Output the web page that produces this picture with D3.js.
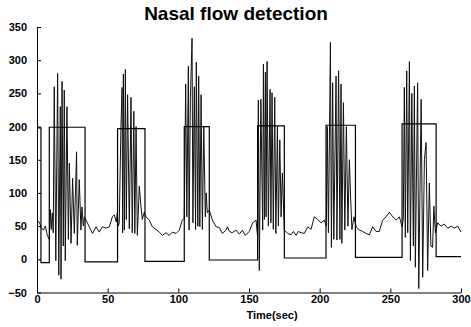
<!DOCTYPE html>
<html>
<head>
<meta charset="utf-8">
<script src="https://cdn.jsdelivr.net/npm/d3@7/dist/d3.min.js"></script>
<style>
  html, body { margin: 0; padding: 0; background: #fff; }
  svg { display: block; }
  .axis text { font-family: "Liberation Sans", Arial, sans-serif; font-weight: bold; font-size: 11px; fill: #000; }
  .axis path, .axis line { stroke: #000; stroke-width: 1; }
</style>
</head>
<body>
<div id="chart"></div>
<script>
// Nasal flow signal (time in sec, flow value)
const flowTime = [
  0, 1.6, 3.0, 4.5, 5.9, 7.3, 8.7, 9.4, 10.1, 10.8, 11.5, 12.2, 13.3, 14.6, 15.4, 16.5, 17.0, 17.7,
  18.6, 19.3, 20.0, 21.2, 22.2, 22.9, 24.1, 25.2, 26.4, 28.0, 28.5, 29.9, 31.1, 31.8, 32.8, 33.5, 34.7,
  37.0, 39.3, 41.8, 44.1, 46.2, 48.8, 51.2, 53.3, 54.7, 56.1,
  56.8, 57.5, 58.2, 59.4, 60.2, 60.6, 61.1, 61.8, 62.5, 63.2, 64.1, 65.3, 66.5, 67.4, 68.5, 69.2, 70.1,
  71.0, 72.4, 73.6, 74.5, 75.9,
  77.1, 79.5, 81.6, 84.2, 86.6, 88.7, 91.3, 93.6, 95.8, 98.4, 100.7, 102.8,
  104.2, 105.2, 106.0, 107.1, 107.6, 108.5, 109.7, 110.3, 111.3, 112.2, 112.7, 113.8, 114.4, 115.2,
  116.1, 117.0, 118.0, 119.1, 119.7, 120.5,
  121.9, 124.1, 126.7, 129.0, 131.1, 133.8, 134.7, 136.1, 138.2, 140.8, 143.2, 145.3, 147.4, 150.2,
  152.6, 155.0,
  156.1, 156.6, 157.3, 158.4, 159.7, 160.2, 160.9, 161.6, 162.1, 162.8, 163.7, 164.9, 165.5, 166.3,
  167.2, 168.2, 169.0, 170.1, 170.8, 171.8, 172.7, 173.6, 175.0,
  177.3, 179.8, 181.4, 183.3, 184.9, 186.8, 189.2, 191.5, 193.9, 196.2, 198.6, 201.0, 203.3,
  204.7, 205.4, 206.2, 207.6, 208.3, 209.2, 210.0, 211.6, 212.2, 213.4, 214.3, 215.1, 215.7, 216.8,
  217.8, 218.9, 220.0, 221.0, 221.9, 222.8, 224.3, 225.8,
  228.1, 230.4, 232.8, 235.2, 237.5, 239.9, 242.2, 244.6, 247.0, 249.3, 251.7, 254.1, 256.4, 258.3,
  259.2, 259.9, 260.6, 261.6, 262.3, 263.5, 264.2, 265.2, 266.3, 267.0, 267.7, 269.3, 270.1, 271.8,
  272.9, 274.1, 275.3, 276.4, 277.6, 278.7, 279.9, 280.8, 281.9, 283.5,
  285.9, 288.2, 290.6, 293.0, 295.3, 297.7, 300
];
const flowValue = [
  58, 56, 48, 44, 50, 36, 30, 75, 45, 70, 40, 260, -2, 280, -24, 230, -30, 268,
  20, 255, -2, 230, 30, 145, 24, 122, 39, 162, 21, 120, 44, 79, 50, 64, 59,
  49, 39, 49, 41, 49, 47, 49, 64, 67, 56,
  70, 50, 55, 200, 259, 40, 279, 44, 286, 60, 248, 46, 244, 40, 223, 39, 200,
  36, 110, 79, 60, 71,
  64, 59, 49, 45, 41, 36, 40, 36, 41, 39, 44, 59,
  62, 264, 64, 291, 44, 240, 333, 55, 260, 45, 297, 50, 276, 49,
  248, 45, 200, 64, 100, 70,
  74, 59, 49, 48, 39, 44, 49, 42, 40, 44, 38, 44, 36, 42,
  55, 59,
  33, 240, -17, 241, 44, 294, 60, 282, 64, 298, 50, 256, 55, 251,
  45, 244, 39, 200, 50, 180, 64, 130, 44,
  39, 37, 42, 36, 42, 40, 39, 49, 45, 64, 60, 55, 59,
  50, 200, 40, 327, 18, 266, 30, 276, 29, 284, 30, 264, 24, 236,
  44, 200, 50, 150, 94, 45, 64, 49,
  44, 42, 39, 37, 49, 42, 42, 59, 64, 71, 64, 59, 64, 49,
  60, 259, 33, 284, 40, 298, -2, 250, 20, 261, -12, 266, -44, 241,
  -27, 150, 176, -17, 115, 20, 18, 80, 40, 55,
  50, 53, 47, 50, 47, 50, 41
];

// Detection signal: step starts (sec) and levels
const stepStart = [0, 2.8, 8.7, 34, 57, 76.4, 104.2, 121.9, 156.1, 175, 204.5, 225.3, 258.3, 282.4, 300];
const stepLevel = [198, -5, 199, -4, 197, -3, 200, -1, 201, 2, 202, 3, 204, 4, 4];

const xTicks = [0, 50, 100, 150, 200, 250, 300];
const yTicks = [-50, 0, 50, 100, 150, 200, 250, 300, 350];

const width = 471, height = 327;

const svg = d3.select("#chart").append("svg")
  .attr("width", width)
  .attr("height", height)
  .style("background", "#fff");

const x = d3.scaleLinear().domain([0, 300]).range([37, 461]);
const y = d3.scaleLinear().domain([-50, 350]).range([292.5, 27]);

// Title
svg.append("text")
  .attr("x", 236)
  .attr("y", 20)
  .attr("text-anchor", "middle")
  .style("font-family", "'Liberation Sans', Arial, sans-serif")
  .style("font-weight", "bold")
  .style("font-size", "19px")
  .text("Nasal flow detection")

// Axes (ticks point inward)
svg.append("g")
  .attr("class", "axis")
  .attr("transform", `translate(0,${y(-50)})`)
  .call(d3.axisBottom(x).tickValues(xTicks).tickSizeInner(-4).tickSizeOuter(0).tickPadding(3))

svg.append("g")
  .attr("class", "axis")
  .attr("transform", `translate(${x(0)},0)`)
  .call(d3.axisLeft(y).tickValues(yTicks).tickSizeInner(-4).tickSizeOuter(0).tickPadding(10))

svg.append("text")
  .attr("x", 272)
  .attr("y", 319)
  .attr("text-anchor", "middle")
  .style("font-family", "'Liberation Sans', Arial, sans-serif")
  .style("font-weight", "bold")
  .style("font-size", "11px")
  .text("Time(sec)")

// Flow trace
const flowData = flowTime.map((t, i) => [t, flowValue[i]])
svg.append("path")
  .datum(flowData)
  .attr("fill", "none")
  .attr("stroke", "#111")
  .attr("stroke-width", 1)
  .attr("d", d3.line().x(d => x(d[0])).y(d => y(d[1])))

// Detection square wave
const stepData = stepStart.map((t, i) => [t, stepLevel[i]])
svg.append("path")
  .datum(stepData)
  .attr("fill", "none")
  .attr("stroke", "#000")
  .attr("stroke-width", 1.2)
  .attr("d", d3.line().curve(d3.curveStepAfter).x(d => x(d[0])).y(d => y(d[1])))
</script>
</body>
</html>
